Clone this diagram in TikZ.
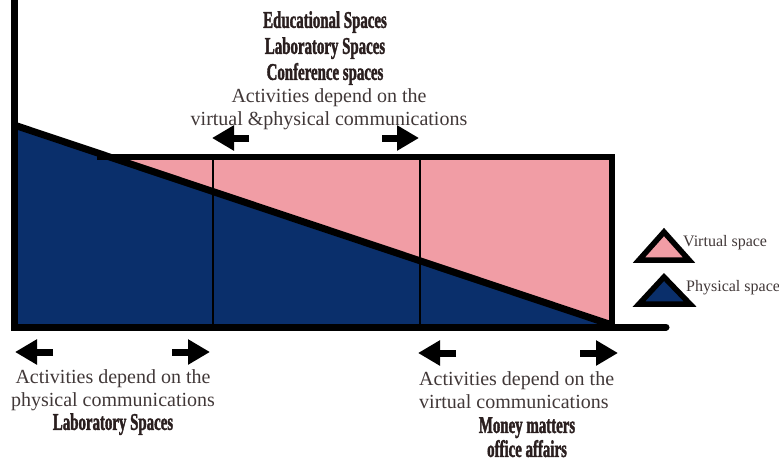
\documentclass[tikz,border=0pt]{standalone}
\usepackage{fontspec}
\setmainfont{Liberation Serif}
\newfontfamily\condfont[FakeStretch=0.62, FakeBold=1.5]{Liberation Serif Bold}
\usepackage{tikz}
\usetikzlibrary{arrows.meta, positioning}
\definecolor{physicalfill}{HTML}{0A2F6B}
\definecolor{virtualfill}{HTML}{F19DA5}
\definecolor{textdark}{HTML}{413838}
\definecolor{labeldark}{HTML}{2A1F1F}
\tikzset{
    axisline/.style={line width=7pt, black, line cap=round},
    edgeline/.style={line width=6pt, black},
    divider/.style={line width=1.8pt, black},
    blockarrow/.style={
        -{Triangle[length=22pt, width=24pt]}, line width=7pt, black
    },
    serifnote/.style={
        font=\fontsize{20}{23}\selectfont, text=textdark,
        align=left, inner sep=0pt, anchor=north west
    },
    condnote/.style={
        font=\condfont\fontsize{24}{26}\selectfont, text=labeldark,
        align=center, inner sep=0pt, anchor=north
    },
    legendtri/.style={line width=5.5pt, black, fill=#1},
    legendlab/.style={
        font=\fontsize{16}{18}\selectfont, text=textdark,
        inner sep=0pt, anchor=west
    },
}

\begin{document}
\begin{tikzpicture}[x=1pt, y=-1pt]
    \useasboundingbox (0,0) rectangle (779,464);

    % Frame points
    \coordinate (axistop) at (14,0);
    \coordinate (origin) at (14,327);
    \coordinate (axisend) at (666,327);
    \coordinate (slopestart) at (14,125);
    \coordinate (slopeend) at (612,325);
    \coordinate (boxleft) at (97,157);
    \coordinate (boxright) at (612,157);
    \coordinate (divAtop) at (213,157);
    \coordinate (divAbot) at (213,327);
    \coordinate (divBtop) at (420,157);
    \coordinate (divBbot) at (420,327);

    % Areas
    \fill[virtualfill] (boxleft) -- (boxright) -- (slopeend) -- cycle;
    \fill[physicalfill] (slopestart) -- (slopeend) -- (origin) -- cycle;

    % Dividers
    \draw[divider] (divAtop) -- (divAbot);
    \draw[divider] (divBtop) -- (divBbot);

    % Box edges and slope
    \draw[edgeline] (boxleft) -- (boxright) -- (slopeend |- origin);
    \draw[axisline, line cap=butt] (slopestart) -- (slopeend);

    % Axes
    \draw[axisline] (axistop) -- (origin) -- (axisend);

    % Arrow ends
    \coordinate (upLtail) at (249,138);
    \coordinate (upLhead) at (212,138);
    \coordinate (upRtail) at (382,138);
    \coordinate (upRhead) at (419,138);
    \coordinate (loALtail) at (53,352);
    \coordinate (loALhead) at (15,352);
    \coordinate (loARtail) at (172,352);
    \coordinate (loARhead) at (210,352);
    \coordinate (loBLtail) at (456,353);
    \coordinate (loBLhead) at (418,353);
    \coordinate (loBRtail) at (580,353);
    \coordinate (loBRhead) at (618,353);

    \draw[blockarrow] (upLtail) -- (upLhead);
    \draw[blockarrow] (upRtail) -- (upRhead);
    \draw[blockarrow] (loALtail) -- (loALhead);
    \draw[blockarrow] (loARtail) -- (loARhead);
    \draw[blockarrow] (loBLtail) -- (loBLhead);
    \draw[blockarrow] (loBRtail) -- (loBRhead);

    % Top texts
    \node[condnote] (topspaces) at (325,11)
        {Educational Spaces\\Laboratory Spaces\\Conference spaces};
    \node[serifnote, align=center, anchor=north] (topnote) at (329,88)
        {Activities depend on the\\virtual \&physical communications};

    % Bottom left texts
    \node[serifnote, align=center, anchor=north] (physnote) at (113,369)
        {Activities depend on the\\physical communications};
    \node[condnote] (physspaces) at (113,413) {Laboratory Spaces};

    % Bottom right texts
    \node[serifnote] (virtnote) at (419,371)
        {Activities depend on the\\virtual communications};
    \node[condnote, font=\condfont\fontsize{24}{24}\selectfont] (virtspaces) at (527,417)
        {Money matters\\office affairs};

    % Legend
    \draw[legendtri=virtualfill] (664,232) -- (689,260) -- (639,260) -- cycle;
    \draw[legendtri=physicalfill] (664,277) -- (690,304) -- (639,304) -- cycle;
    \node[legendlab] (virtlab) at (683,243) {Virtual space};
    \node[legendlab] (physlab) at (686,288) {Physical space};

\end{tikzpicture}
\end{document}
